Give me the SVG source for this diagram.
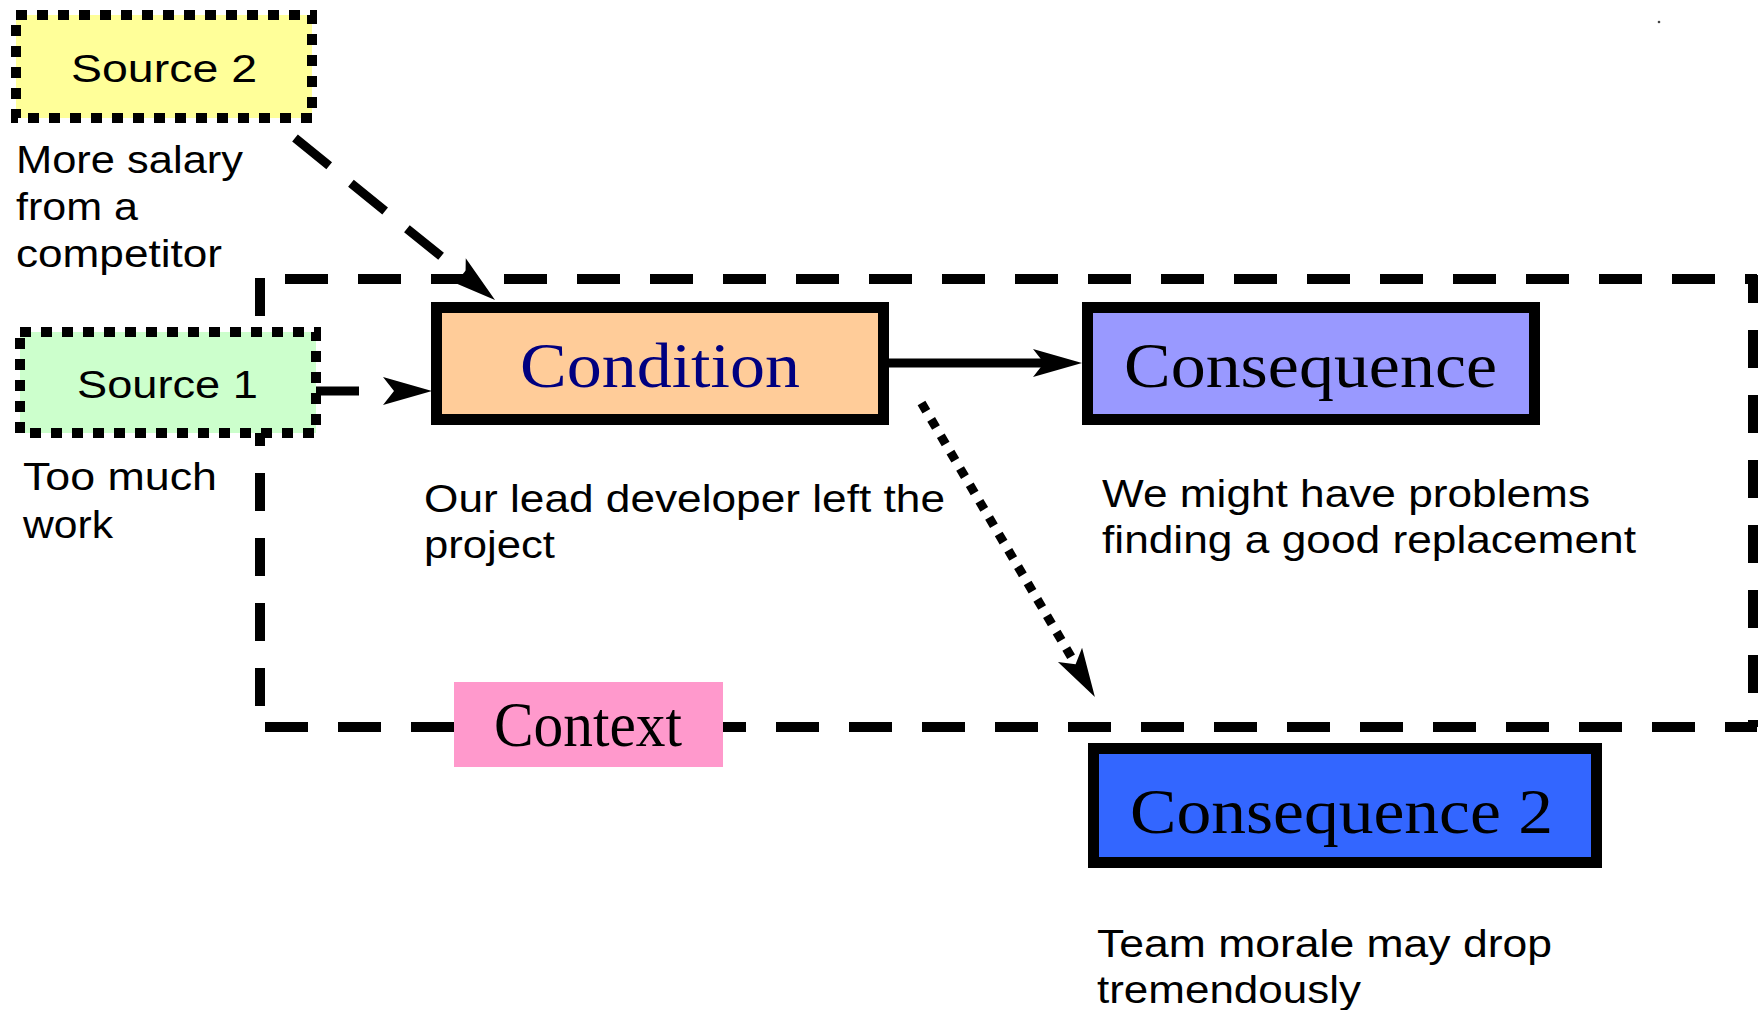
<svg xmlns="http://www.w3.org/2000/svg" width="1758" height="1010" viewBox="0 0 1758 1010">
  <style>
    .sans { font-family: "Liberation Sans", Arial, sans-serif; font-size: 38px; fill: #000; }
    .label { font-family: "Liberation Sans", Arial, sans-serif; font-size: 39px; fill: #000; }
    .serif { font-family: "Liberation Serif", "Times New Roman", serif; font-size: 64px; fill: #000; }
    .box { stroke: #000; stroke-width: 11; }
    .source { stroke: #000; stroke-width: 10; stroke-dasharray: 11 10; }
    .frame { fill: none; stroke: #000; stroke-width: 10; }
    .link { fill: none; stroke: #000; stroke-width: 9; }
  </style>
  <defs>
    <!-- barbed arrowhead; the path end sits in the notch, the tip lies 38px ahead -->
    <marker id="head" markerUnits="userSpaceOnUse" orient="auto" overflow="visible" markerWidth="1" markerHeight="1" refX="0" refY="0">
      <path d="M38,0 L-11,-14 L0,0 L-11,14 Z" fill="#000"/>
    </marker>
  </defs>

  <rect width="1758" height="1010" fill="#fff"/>

  <!-- context frame with its label -->
  <g id="context">
    <line class="frame" x1="259" y1="279" x2="1757" y2="279" stroke-dasharray="43 30" stroke-dashoffset="47"/>
    <line class="frame" x1="1753" y1="275" x2="1753" y2="727" stroke-dasharray="38 27" stroke-dashoffset="10"/>
    <line class="frame" x1="259" y1="727" x2="1757" y2="727" stroke-dasharray="43 30" stroke-dashoffset="67"/>
    <line class="frame" x1="260" y1="278" x2="260" y2="727" stroke-dasharray="38 27"/>
    <rect x="454" y="682" width="269" height="85" fill="#FF99CC"/>
    <text class="serif" x="494" y="746" font-size="60" textLength="188" lengthAdjust="spacingAndGlyphs">Context</text>
  </g>

  <!-- connectors -->
  <g id="connectors">
    <line class="link" x1="295" y1="138" x2="465.5" y2="276.1" stroke-dasharray="44 28" marker-end="url(#head)"/>
    <line class="link" x1="314" y1="391" x2="394" y2="391" stroke-dasharray="45 40" marker-end="url(#head)"/>
    <line class="link" x1="884" y1="363" x2="1044" y2="363" marker-end="url(#head)"/>
    <line class="link" x1="921.5" y1="403" x2="1075.6" y2="664.3" stroke-dasharray="9.5 9.5" marker-end="url(#head)"/>
  </g>

  <g id="source2">
    <rect class="source" x="16" y="15" width="296" height="103" fill="#FFFF99"/>
    <text class="label" x="71" y="82" textLength="186" lengthAdjust="spacingAndGlyphs">Source 2</text>
    <text class="sans" x="16" y="173" textLength="227" lengthAdjust="spacingAndGlyphs">More salary</text>
    <text class="sans" x="16" y="220" textLength="122" lengthAdjust="spacingAndGlyphs">from a</text>
    <text class="sans" x="16" y="267" textLength="206" lengthAdjust="spacingAndGlyphs">competitor</text>
  </g>

  <g id="source1">
    <rect class="source" x="20" y="332" width="296" height="101" fill="#CCFFCC"/>
    <text class="label" x="77" y="398" textLength="181" lengthAdjust="spacingAndGlyphs">Source 1</text>
    <text class="sans" x="23" y="490" textLength="194" lengthAdjust="spacingAndGlyphs">Too much</text>
    <text class="sans" x="23" y="538" textLength="90" lengthAdjust="spacingAndGlyphs">work</text>
  </g>

  <g id="condition">
    <rect class="box" x="436.5" y="307.5" width="447" height="112" fill="#FFCC99"/>
    <text class="serif" x="520" y="387" style="fill:#000080" textLength="280" lengthAdjust="spacingAndGlyphs">Condition</text>
    <text class="sans" x="424" y="512" textLength="521" lengthAdjust="spacingAndGlyphs">Our lead developer left the</text>
    <text class="sans" x="424" y="558" textLength="131" lengthAdjust="spacingAndGlyphs">project</text>
  </g>

  <g id="consequence">
    <rect class="box" x="1087.5" y="307.5" width="447" height="112" fill="#9999FF"/>
    <text class="serif" x="1124" y="387" textLength="373" lengthAdjust="spacingAndGlyphs">Consequence</text>
    <text class="sans" x="1102" y="507" textLength="488" lengthAdjust="spacingAndGlyphs">We might have problems</text>
    <text class="sans" x="1102" y="553" textLength="534" lengthAdjust="spacingAndGlyphs">finding a good replacement</text>
  </g>

  <g id="consequence2">
    <rect class="box" x="1093.5" y="748.5" width="503" height="114" fill="#3366FF"/>
    <text class="serif" x="1130" y="833" textLength="423" lengthAdjust="spacingAndGlyphs">Consequence 2</text>
    <text class="sans" x="1097" y="957" textLength="455" lengthAdjust="spacingAndGlyphs">Team morale may drop</text>
    <text class="sans" x="1097" y="1003" textLength="264" lengthAdjust="spacingAndGlyphs">tremendously</text>
  </g>

  <!-- small speck near the top right -->
  <circle cx="1659" cy="22" r="1.3" fill="#444"/>
</svg>
